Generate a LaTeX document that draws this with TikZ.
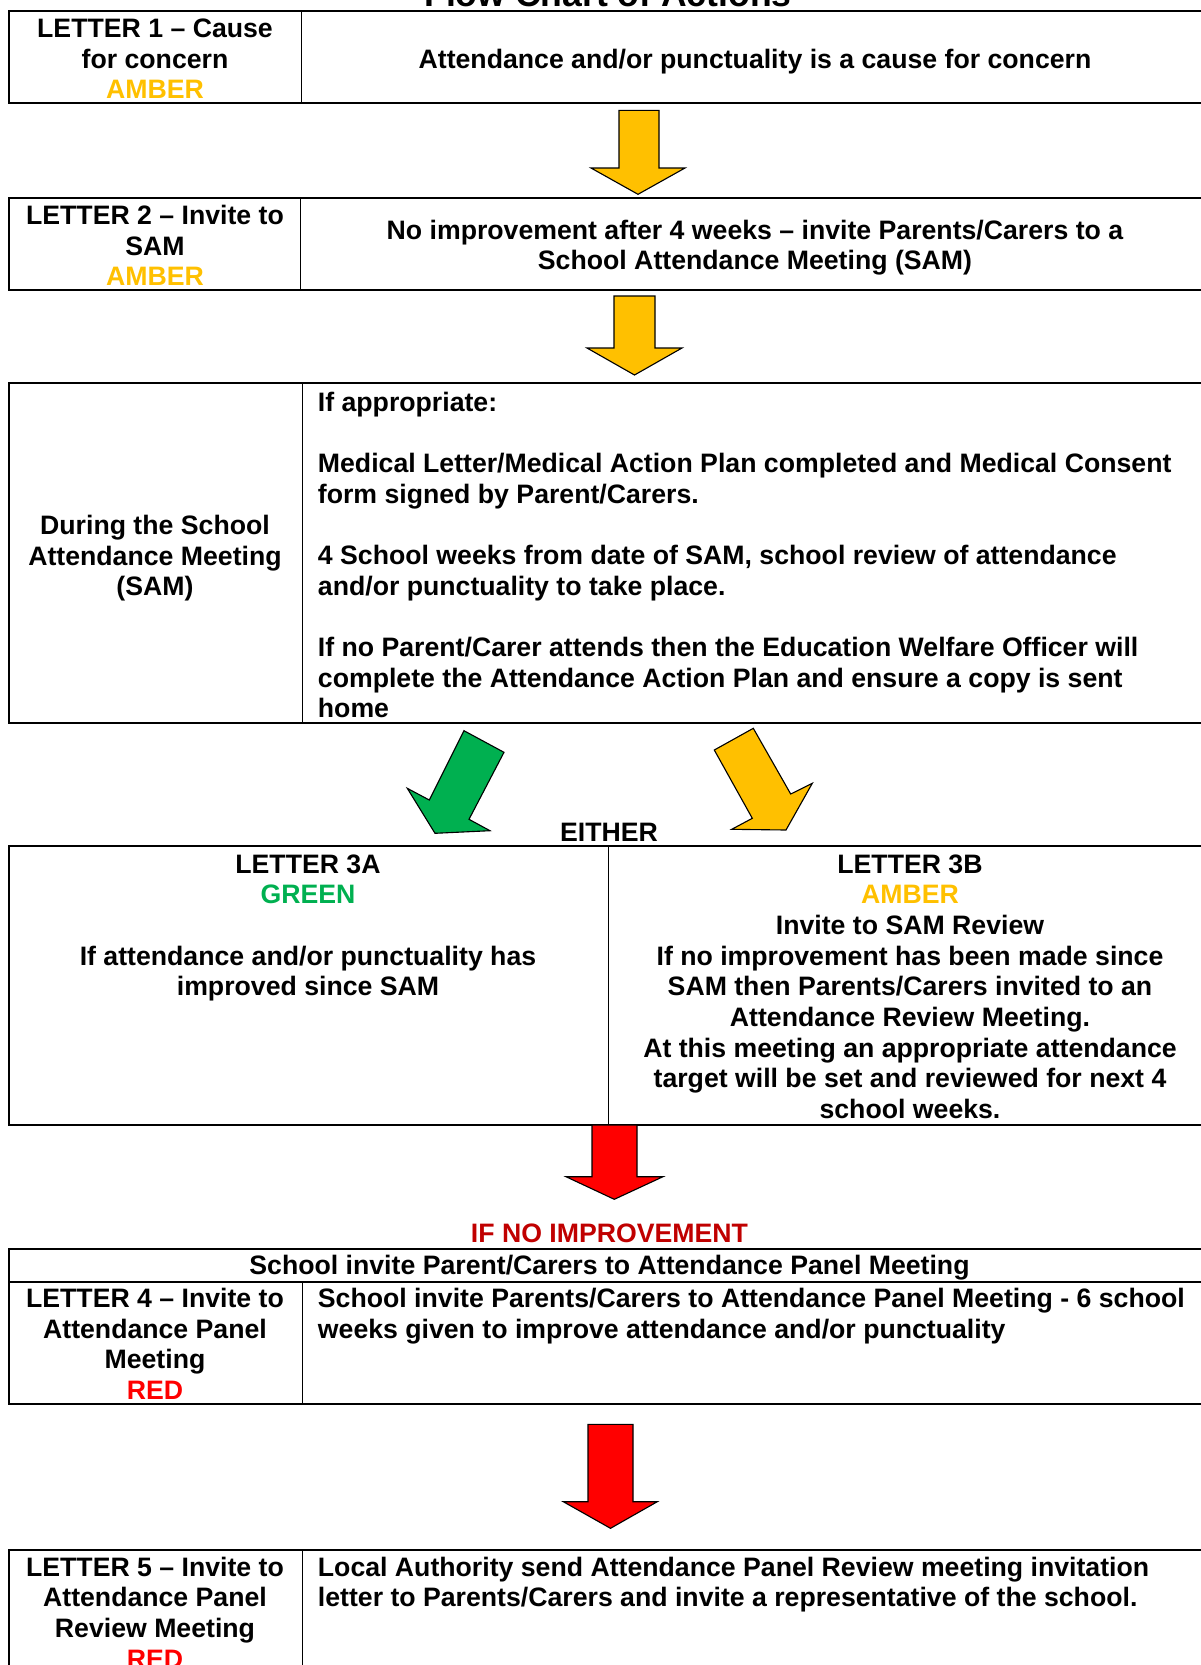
\documentclass[tikz,border=0pt]{standalone}
\usepackage{fontspec}
\setmainfont{Liberation Sans}
\definecolor{amber}{HTML}{FFC000}
\definecolor{greenc}{HTML}{00B050}
\definecolor{redc}{HTML}{FF0000}
\definecolor{darkred}{HTML}{C00000}
\begin{document}
\begin{tikzpicture}[x=0.45pt,y=-0.45pt,
  tbl/.style={line width=0.9pt},
  divline/.style={line width=0.5pt},
  txt/.style={inner sep=0pt, font=\bfseries\fontsize{12}{13.8}\selectfont, align=center, anchor=north},
  txtl/.style={txt, align=left, anchor=north west},
  blockarrow/.style={draw=black, line width=0.5pt, line join=miter}]
\useasboundingbox (0,0) rectangle (1201,1665);
\clip (0,0) rectangle (1201,1665);

% title (cut off at top)
\node[inner sep=0pt, anchor=base, font=\bfseries\fontsize{16}{18}\selectfont] (title) at (608,6) {Flow Chart of Actions};

% Row 1
\draw[tbl] (8.5,10.6) rectangle (1209,103);
\draw[divline] (301.6,10.6) -- (301.6,103);
\node[txt] (l1) at (155,15.6) {\strut LETTER 1 – Cause\\\strut for concern\\\textcolor{amber}{\strut AMBER}};
\node[txt] (r1) at (755,46.4) {\strut Attendance and/or punctuality is a cause for concern};

% Arrow 1
\filldraw[blockarrow, fill=amber] (619,110.4) -- (659,110.4) -- (659,168) -- (685,168) -- (638,194.3) -- (591,168) -- (619,168) -- cycle;

% Row 2
\draw[tbl] (8.5,197.5) rectangle (1209,290);
\draw[divline] (300.5,197.5) -- (300.5,290);
\node[txt] (l2) at (155,202.5) {\strut LETTER 2 – Invite to\\\strut SAM\\\textcolor{amber}{\strut AMBER}};
\node[txt] (r2) at (755,217.4) {\strut No improvement after 4 weeks – invite Parents/Carers to a\\\strut School Attendance Meeting (SAM)};

% Arrow 2
\filldraw[blockarrow, fill=amber] (614,296) -- (655,296) -- (655,348) -- (682,348) -- (634.5,375) -- (587,348) -- (614,348) -- cycle;

% Row 3
\draw[tbl] (8.5,383.4) rectangle (1209,723);
\draw[divline] (302.6,383.4) -- (302.6,723);
\node[txt] (l3) at (155,512.6) {\strut During the School\\\strut Attendance Meeting\\\strut (SAM)};
\node[txtl] (r3) at (317.5,389.4) {\strut If appropriate:\\
\strut\\
\strut Medical Letter/Medical Action Plan completed and Medical Consent\\
\strut form signed by Parent/Carers.\\
\strut\\
\strut 4 School weeks from date of SAM, school review of attendance\\
\strut and/or punctuality to take place.\\
\strut\\
\strut If no Parent/Carer attends then the Education Welfare Officer will\\
\strut complete the Attendance Action Plan and ensure a copy is sent\\
\strut home};

% Diagonal arrows
\filldraw[blockarrow, fill=greenc] (464,730.7) -- (504,752.3) -- (469,819.3) -- (490,830.7) -- (435,833.3) -- (407.3,788.3) -- (429.3,800) -- cycle;
\filldraw[blockarrow, fill=amber] (714.3,750) -- (753.3,728.3) -- (790.7,794) -- (812.3,783.3) -- (786,830) -- (731.7,829.3) -- (752.3,818.3) -- cycle;
\node[txt] (either) at (609,819.5) {\strut EITHER};

% Row 4
\draw[tbl] (8.5,846.4) rectangle (1209,1124.6);
\draw[divline] (608.5,846.4) -- (608.5,1124.6);
\node[txt] (l4) at (308,851.3) {\strut LETTER 3A\\\textcolor{greenc}{\strut GREEN}\\\strut\\\strut If attendance and/or punctuality has\\\strut improved since SAM};
\node[txt] (r4) at (910,851.3) {\strut LETTER 3B\\\textcolor{amber}{\strut AMBER}\\\strut Invite to SAM Review\\\strut If no improvement has been made since\\\strut SAM then Parents/Carers invited to an\\\strut Attendance Review Meeting.\\\strut At this meeting an appropriate attendance\\\strut target will be set and reviewed for next 4\\\strut school weeks.};

% Arrow 3
\filldraw[blockarrow, fill=redc] (592,1125) -- (637,1125) -- (637,1176.7) -- (663,1176.7) -- (614.3,1199.3) -- (566,1176.7) -- (592,1176.7) -- cycle;
\node[txt, text=darkred] (ifno) at (609.5,1221) {\strut IF NO IMPROVEMENT};

% Row 5
\draw[tbl] (8.5,1248.8) rectangle (1209,1404);
\draw[tbl] (8.5,1281.7) -- (1209,1281.7);
\draw[divline] (302.6,1281.7) -- (302.6,1404);
\node[txt] (span5) at (609.5,1252.7) {\strut School invite Parent/Carers to Attendance Panel Meeting};
\node[txt] (l5) at (155,1285.6) {\strut LETTER 4 – Invite to\\\strut Attendance Panel\\\strut Meeting\\\textcolor{redc}{\strut RED}};
\node[txtl] (r5) at (317.5,1285.6) {\strut School invite Parents/Carers to Attendance Panel Meeting - 6 school\\\strut weeks given to improve attendance and/or punctuality};

% Arrow 4
\filldraw[blockarrow, fill=redc] (588,1424.3) -- (633,1424.3) -- (633,1501.7) -- (657.3,1501.7) -- (610.5,1528.3) -- (563.3,1501.7) -- (588,1501.7) -- cycle;

% Row 6
\draw[tbl] (8.5,1550.4) rectangle (1209,1720);
\draw[divline] (302.6,1550.4) -- (302.6,1720);
\node[txt] (l6) at (155,1554.3) {\strut LETTER 5 – Invite to\\\strut Attendance Panel\\\strut Review Meeting\\\textcolor{redc}{\strut RED}};
\node[txtl] (r6) at (317.5,1554.3) {\strut Local Authority send Attendance Panel Review meeting invitation\\\strut letter to Parents/Carers and invite a representative of the school.};
\end{tikzpicture}
\end{document}
